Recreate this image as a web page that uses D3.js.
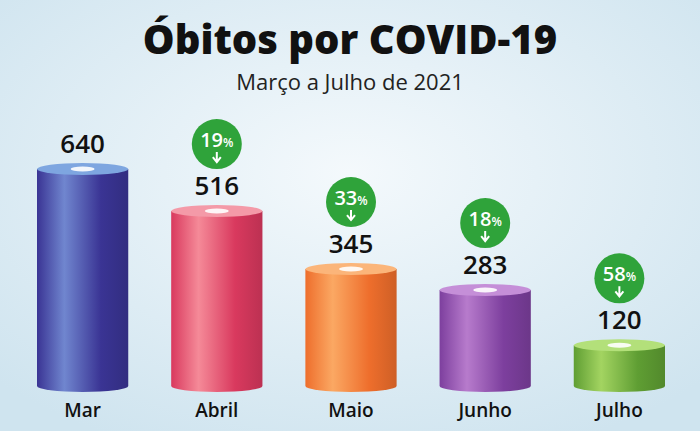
<!DOCTYPE html>
<html><head><meta charset="utf-8">
<script src="https://cdn.jsdelivr.net/npm/d3@7"></script>
<style>body{margin:0;overflow:hidden}text{font-family:"Open Sans",sans-serif}</style>
</head><body><div id="chart"></div>
<script>
const months = ["Mar", "Abril", "Maio", "Junho", "Julho"];
const deaths = [640, 516, 345, 283, 120];
const drops = [null, "19", "33", "18", "58"];
const darkColors = ["#3a3494", "#d9395e", "#ee6e2c", "#7d3f9e", "#5f9e33"];
const lightColors = ["#7086cf", "#f58a98", "#fba863", "#b77bcc", "#a3d461"];
const topColors = ["#7ea6e0", "#f49aa8", "#fbb57a", "#c58fd8", "#b3e07a"];

const width = 700, height = 431;
const svg = d3.select("#chart").append("svg").attr("width", width).attr("height", height);
const defs = svg.append("defs");

const bg = defs.append("radialGradient").attr("id", "bg").attr("cx", "50%").attr("cy", "40%").attr("r", "70%");
bg.append("stop").attr("offset", "0%").attr("stop-color", "#f4f9fc");
bg.append("stop").attr("offset", "100%").attr("stop-color", "#cfe4ef");
svg.append("rect").attr("width", width).attr("height", height).attr("fill", "url(#bg)");

svg.append("text").attr("x", 350).attr("y", 54).attr("text-anchor", "middle")
    .attr("font-size", 40).attr("font-weight", 800).attr("fill", "#111").text("Óbitos por COVID-19");
svg.append("text").attr("x", 350).attr("y", 90).attr("text-anchor", "middle")
    .attr("font-size", 22).attr("font-weight", 500).attr("fill", "#222").text("Março a Julho de 2021");

const x = d3.scaleBand().domain(months).range([37, 665]).paddingInner(0.32).paddingOuter(0);
const y = d3.scaleLinear().domain([0, 640]).range([386, 169]);
const ry = 6;

months.forEach((m, i) => {
    const g = defs.append("linearGradient").attr("id", "cyl" + i);
    g.append("stop").attr("offset", "0%").attr("stop-color", darkColors[i]);
    g.append("stop").attr("offset", "30%").attr("stop-color", lightColors[i]);
    g.append("stop").attr("offset", "70%").attr("stop-color", darkColors[i]);
    g.append("stop").attr("offset", "100%").attr("stop-color", d3.color(darkColors[i]).darker(0.4));
});

const bars = svg.selectAll("g.bar").data(months).join("g").attr("class", "bar");
bars.each(function (m, i) {
    const g = d3.select(this);
    const x0 = x(m), w = x.bandwidth(), cx = x0 + w / 2;
    const top = y(deaths[i]), bot = y(0);
    g.append("path")
        .attr("d", `M${x0},${top} L${x0},${bot} A${w / 2},${ry} 0 0 0 ${x0 + w},${bot} L${x0 + w},${top} Z`)
        .attr("fill", `url(#cyl${i})`);
    g.append("ellipse").attr("cx", cx).attr("cy", top).attr("rx", w / 2).attr("ry", ry).attr("fill", topColors[i]);
    g.append("ellipse").attr("cx", cx).attr("cy", top).attr("rx", 12).attr("ry", 2.5).attr("fill", "#fff").attr("opacity", 0.9);
    g.append("text").attr("x", cx).attr("y", top - 16).attr("text-anchor", "middle")
        .attr("font-size", 26).attr("font-weight", 600).attr("fill", "#111").text(deaths[i]);
    g.append("text").attr("x", cx).attr("y", 417).attr("text-anchor", "middle")
        .attr("font-size", 19).attr("font-weight", 600).attr("fill", "#111").text(m);
    if (drops[i]) {
        const by = top - 67;
        g.append("circle").attr("cx", cx).attr("cy", by).attr("r", 25).attr("fill", "#2fa33a");
        const t = g.append("text").attr("x", cx).attr("y", by + 3).attr("text-anchor", "middle")
            .attr("fill", "#fff").attr("font-weight", 600);
        t.append("tspan").attr("font-size", 20).text(drops[i]);
        t.append("tspan").attr("font-size", 12).text("%");
        g.append("path").attr("d", `M${cx},${by + 8} L${cx},${by + 17} M${cx - 4},${by + 13} L${cx},${by + 18} L${cx + 4},${by + 13}`)
            .attr("stroke", "#fff").attr("stroke-width", 2).attr("fill", "none");
    }
});
</script></body></html>
